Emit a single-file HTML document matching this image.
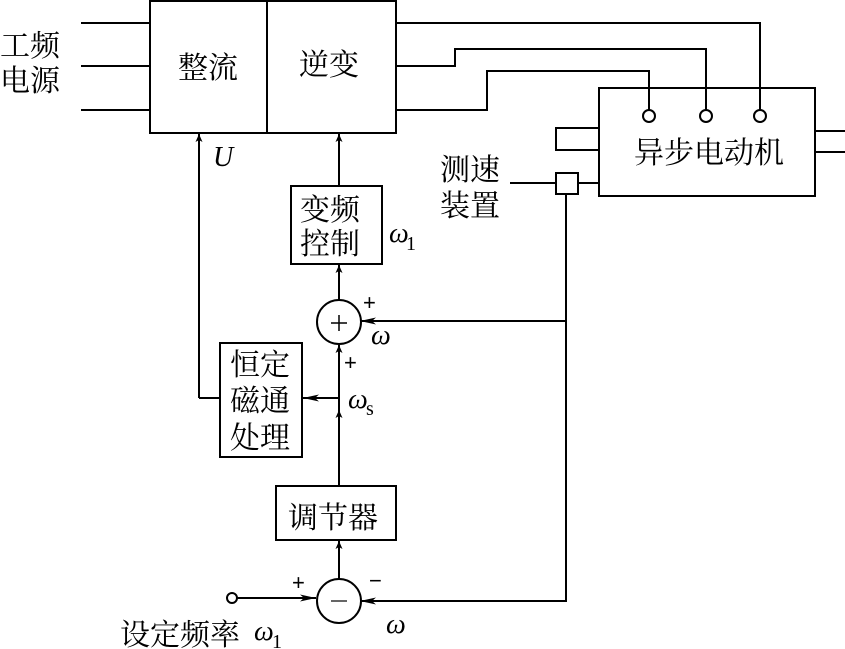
<!DOCTYPE html>
<html><head><meta charset="utf-8"><style>
html,body{margin:0;padding:0;background:#fff;}
svg{display:block;}
.c{font-family:"Liberation Serif","Noto Serif CJK SC","Noto Sans CJK SC",serif;fill:#000;}
.p{font-family:"Liberation Sans",sans-serif;fill:#000;}
.i{font-family:"Liberation Serif",serif;font-style:italic;fill:#000;}
</style></head><body>
<svg width="845" height="649" viewBox="0 0 845 649" xmlns="http://www.w3.org/2000/svg">
<defs><marker id="a" markerWidth="8" markerHeight="8" refX="8" refY="4" orient="auto" markerUnits="userSpaceOnUse"><path d="M0,0.5 L8,4 L0,7.5 L2,4 Z" fill="#000"/></marker>
<marker id="b" markerWidth="16" markerHeight="10" refX="16" refY="5" orient="auto" markerUnits="userSpaceOnUse"><path d="M0,1.5 L16,5 L0,8.5 L4,5 Z" fill="#000"/></marker></defs>
<g stroke="#000" stroke-width="2" fill="none">
<rect x="150" y="1" width="246" height="132"/>
<line x1="267" y1="1" x2="267" y2="133"/>
<line x1="81" y1="23" x2="150" y2="23"/>
<line x1="81" y1="66" x2="150" y2="66"/>
<line x1="81" y1="110" x2="150" y2="110"/>
<polyline points="396,23 760,23 760,110"/>
<polyline points="396,66 455,66 455,49 706,49 706,110"/>
<polyline points="396,110 487,110 487,71 649,71 649,110"/>
<circle cx="649" cy="116" r="6"/><circle cx="706" cy="116" r="6"/><circle cx="760" cy="116" r="6"/>
<rect x="599" y="88" width="216" height="108"/>
<polyline points="599,128 556,128 556,150 599,150"/>
<line x1="815" y1="131" x2="845" y2="131"/><line x1="815" y1="152" x2="845" y2="152"/>
<rect x="556" y="173" width="22" height="21"/>
<line x1="578" y1="183" x2="599" y2="183"/>
<line x1="510" y1="183" x2="556" y2="183"/>
<polyline points="566,194 566,601 360,601" marker-end="url(#b)"/>
<line x1="566" y1="321" x2="360" y2="321" marker-end="url(#b)"/>
<line x1="199" y1="398" x2="199" y2="134" marker-end="url(#a)"/>
<line x1="220" y1="398" x2="199" y2="398"/>
<line x1="339" y1="186" x2="339" y2="134" marker-end="url(#a)"/>
<rect x="291" y="186" width="91" height="78"/>
<line x1="339" y1="300" x2="339" y2="265" marker-end="url(#a)"/>
<circle cx="339" cy="322" r="22"/>
<rect x="220" y="343" width="82" height="114"/>
<line x1="339" y1="486" x2="339" y2="345" marker-end="url(#a)"/>
<line x1="339" y1="430" x2="339" y2="410" marker-end="url(#a)"/>
<line x1="339" y1="398" x2="303" y2="398" marker-end="url(#b)"/>
<rect x="276" y="486" width="120" height="54"/>
<line x1="339" y1="579" x2="339" y2="541" marker-end="url(#a)"/>
<circle cx="339" cy="601" r="22"/>
<circle cx="232" cy="598" r="5"/>
<line x1="237" y1="598" x2="316" y2="598" marker-end="url(#b)"/>
<line x1="331" y1="601" x2="347" y2="601" stroke-width="1.2"/>
<line x1="331" y1="323" x2="347" y2="323" stroke-width="1.5"/>
<line x1="339" y1="315" x2="339" y2="331" stroke-width="1.5"/>
</g>
<g class="c" font-size="30">
<text x="0" y="56">工频</text><text x="0" y="91">电源</text>
<text x="178" y="78">整流</text><text x="299" y="75">逆变</text>
<text x="634" y="163">异步电动机</text>
<text x="440" y="180">测速</text><text x="440" y="216">装置</text>
<text x="300" y="220">变频</text><text x="300" y="254">控制</text>
<text x="230" y="375">恒定</text><text x="230" y="411">磁通</text><text x="230" y="448">处理</text>
<text x="288" y="528">调节器</text>
<text x="120" y="645">设定频率</text>
</g>
<g class="p" font-size="22"><text x="363" y="310">+</text><text x="344" y="370">+</text><text x="292" y="590">+</text><text x="369" y="588">−</text></g>
<g class="i" font-size="28">
<text x="213" y="166">U</text>
<text x="389" y="242">ω</text><text x="406" y="250" font-style="normal" font-size="20">1</text>
<text x="371" y="344">ω</text>
<text x="348" y="408">ω</text><text x="366" y="415" font-style="normal" font-size="20">s</text>
<text x="386" y="633">ω</text>
<text x="254" y="640">ω</text><text x="272" y="648" font-style="normal" font-size="20">1</text>
</g>
</svg>
</body></html>
